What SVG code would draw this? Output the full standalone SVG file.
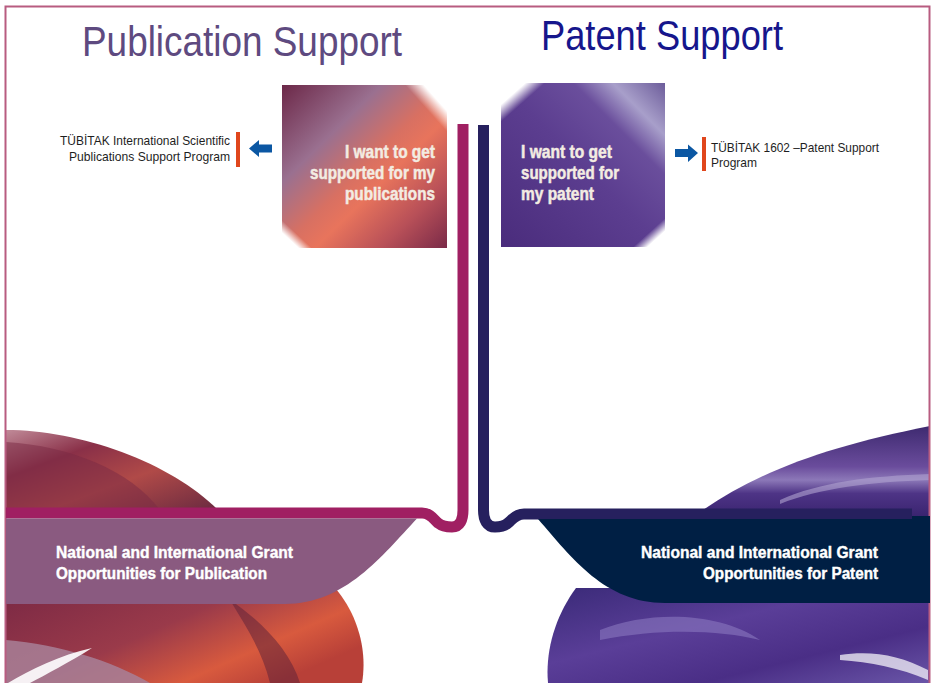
<svg xmlns="http://www.w3.org/2000/svg" width="932" height="683" viewBox="0 0 932 683">
<style>
.title{font-family:"Liberation Sans",Arial,sans-serif;font-size:42px}
.lbl{font-family:"Liberation Sans",Arial,sans-serif;font-size:13.5px;fill:#1e1e1e}
.box{font-family:"Liberation Sans",Arial,sans-serif;font-size:18px;font-weight:bold;fill:#f3ece2;stroke:#f3ece2;stroke-width:0.5}
.ban{font-family:"Liberation Sans",Arial,sans-serif;font-size:16px;font-weight:bold;fill:#ffffff;stroke:#ffffff;stroke-width:0.4}
.bar{fill:#e0461c}
.arrow{fill:#0b57a3}
.conn{fill:none;stroke-width:11}
</style>
<defs>
<linearGradient id="gPub" x1="0" y1="0" x2="1" y2="1">
<stop offset="0" stop-color="#6c2848"/>
<stop offset="0.3" stop-color="#9a7090"/>
<stop offset="0.5" stop-color="#d87062"/>
<stop offset="0.6" stop-color="#e8745c"/>
<stop offset="0.8" stop-color="#b85058"/>
<stop offset="1" stop-color="#7a2a48"/>
</linearGradient>
<linearGradient id="gPat" x1="0" y1="1" x2="1" y2="0">
<stop offset="0" stop-color="#4a2c7c"/>
<stop offset="0.5" stop-color="#5c3e90"/>
<stop offset="0.72" stop-color="#6a4e9c"/>
<stop offset="0.84" stop-color="#a89fca"/>
<stop offset="1" stop-color="#6c5c9a"/>
</linearGradient>
<linearGradient id="wTR" x1="1" y1="0" x2="0.5" y2="0.5">
<stop offset="0.55" stop-color="#fff" stop-opacity="1"/>
<stop offset="1" stop-color="#fff" stop-opacity="0"/>
</linearGradient>
<linearGradient id="wBL" x1="0" y1="1" x2="0.5" y2="0.5">
<stop offset="0.55" stop-color="#fff" stop-opacity="1"/>
<stop offset="1" stop-color="#fff" stop-opacity="0"/>
</linearGradient>
<linearGradient id="wTL" x1="0" y1="0" x2="0.5" y2="0.5">
<stop offset="0.55" stop-color="#fff" stop-opacity="1"/>
<stop offset="1" stop-color="#fff" stop-opacity="0"/>
</linearGradient>
<linearGradient id="wBR" x1="1" y1="1" x2="0.5" y2="0.5">
<stop offset="0.55" stop-color="#fff" stop-opacity="1"/>
<stop offset="1" stop-color="#fff" stop-opacity="0"/>
</linearGradient>
<linearGradient id="dL1" x1="0" y1="0" x2="1" y2="1">
<stop offset="0" stop-color="#c08a98"/>
<stop offset="0.3" stop-color="#8a3048"/>
<stop offset="0.6" stop-color="#b04a48"/>
<stop offset="1" stop-color="#6a2a40"/>
</linearGradient>
<linearGradient id="dL2" x1="0" y1="0" x2="1" y2="0.6">
<stop offset="0" stop-color="#7a2844"/>
<stop offset="0.5" stop-color="#9a3a4a"/>
<stop offset="0.8" stop-color="#d85a3e"/>
<stop offset="1" stop-color="#b84038"/>
</linearGradient>
<linearGradient id="dR1" x1="0" y1="0" x2="0" y2="1">
<stop offset="0" stop-color="#3e2a70"/>
<stop offset="0.45" stop-color="#6a4c9c"/>
<stop offset="0.6" stop-color="#8c78b8"/>
<stop offset="0.75" stop-color="#4e3486"/>
<stop offset="1" stop-color="#3a2470"/>
</linearGradient>
<linearGradient id="dR2" x1="0" y1="0" x2="1" y2="1">
<stop offset="0" stop-color="#3a2a78"/>
<stop offset="0.4" stop-color="#5a3e98"/>
<stop offset="0.7" stop-color="#4a2e86"/>
<stop offset="1" stop-color="#6a56a8"/>
</linearGradient>
</defs>

<rect x="0" y="0" width="932" height="683" fill="#ffffff"/>

<!-- decorative background shapes -->
<path d="M6,430 C80,430 170,462 218,510 L6,510 Z" fill="url(#dL1)"/>
<path d="M6,442 C70,446 130,470 160,510 L6,510 Z" fill="#7a2a44" opacity="0.5"/>
<path d="M6,588 H335 C356,612 368,648 362,683 H6 Z" fill="url(#dL2)"/>
<path d="M6,640 C60,645 110,660 150,683 H6 Z" fill="#a88098" opacity="0.85"/>
<path d="M8,683 C30,670 60,655 92,648 C70,662 45,675 30,683 Z" fill="#ffffff" opacity="0.9"/>
<path d="M230,600 C260,620 290,650 300,683 H270 C262,650 245,625 230,600 Z" fill="#5a2038" opacity="0.5"/>
<path d="M700,512 C760,470 830,446 930,426 V516 H700 Z" fill="url(#dR1)"/>
<path d="M780,500 C820,482 870,476 930,474 V480 C870,482 820,488 780,504 Z" fill="#b0a4d0" opacity="0.6"/>
<path d="M576,588 C556,615 545,650 548,683 H930 V588 Z" fill="url(#dR2)"/>
<path d="M600,630 C650,610 720,612 760,640 C720,630 660,628 600,640 Z" fill="#8a78c0" opacity="0.6"/>
<path d="M840,655 C870,650 900,655 928,670 V680 C900,668 870,662 840,660 Z" fill="#ffffff" opacity="0.7"/>

<!-- frame -->
<rect x="5.5" y="6.5" width="924" height="700" fill="none" stroke="#b85c80" stroke-width="2"/>

<!-- titles -->
<g id="title-publication">
<text class="title" x="82" y="56" fill="#5e4a80" textLength="320" lengthAdjust="spacingAndGlyphs">Publication Support</text>
</g>
<g id="title-patent">
<text class="title" x="541" y="50" fill="#16168c" textLength="242" lengthAdjust="spacingAndGlyphs">Patent Support</text>
</g>

<!-- connectors -->
<g id="connectors">
<path class="conn" stroke="#a01f62" d="M6,513 H422 C431,513 434,520 438,523 C443,527 448,527 452,527 C460,527 463,520 463,510 V124"/>
<path class="conn" stroke="#26205e" d="M483.5,125 V510 C483.5,520 487,527 495,527 C499,527 504,527 508,523 C512,520 515,514 524,514 H912"/>
<polygon class="arrow" points="249,148.5 259,140 259,144.5 272,144.5 272,152.5 259,152.5 259,157"/>
<polygon class="arrow" points="698,153 688,144.5 688,149 675,149 675,157 688,157 688,162"/>
</g>

<!-- publication box -->
<g id="node-pub-box">
<rect x="282" y="85" width="165" height="163" fill="url(#gPub)"/>
<polygon points="405,85 447,85 447,132" fill="url(#wTR)"/>
<polygon points="282,220 282,248 312,248" fill="url(#wBL)"/>
<text class="box" text-anchor="end" x="435" y="158" textLength="90" lengthAdjust="spacingAndGlyphs">I want to get</text>
<text class="box" text-anchor="end" x="435" y="179" textLength="125" lengthAdjust="spacingAndGlyphs">supported for my</text>
<text class="box" text-anchor="end" x="435" y="200" textLength="90" lengthAdjust="spacingAndGlyphs">publications</text>
</g>

<!-- patent box -->
<g id="node-pat-box">
<rect x="501" y="83" width="164" height="164" fill="url(#gPat)"/>
<polygon points="501,83 545,83 501,122" fill="url(#wTL)"/>
<polygon points="665,218 665,247 633,247" fill="url(#wBR)"/>
<text class="box" x="521" y="158" textLength="91" lengthAdjust="spacingAndGlyphs">I want to get</text>
<text class="box" x="521" y="179" textLength="98" lengthAdjust="spacingAndGlyphs">supported for</text>
<text class="box" x="521" y="200" textLength="73" lengthAdjust="spacingAndGlyphs">my patent</text>
</g>

<!-- publication program -->
<g id="node-pub-program">
<rect class="bar" x="236" y="132" width="4" height="35"/>
<text class="lbl" text-anchor="end" x="230" y="145" textLength="170" lengthAdjust="spacingAndGlyphs">TÜBİTAK International Scientific</text>
<text class="lbl" text-anchor="end" x="230" y="161" textLength="161" lengthAdjust="spacingAndGlyphs">Publications Support Program</text>
</g>

<!-- patent program -->
<g id="node-pat-program">
<rect class="bar" x="702" y="137" width="4" height="34"/>
<text class="lbl" x="711" y="152" textLength="168" lengthAdjust="spacingAndGlyphs">TÜBİTAK 1602 –Patent Support</text>
<text class="lbl" x="711" y="167" textLength="46" lengthAdjust="spacingAndGlyphs">Program</text>
</g>

<!-- publication grants banner -->
<g id="node-pub-grants">
<path d="M6,518.5 H417 C382,556 345,604 285,604 H6 Z" fill="#8a5a80"/>
<text class="ban" x="56" y="558" textLength="237" lengthAdjust="spacingAndGlyphs">National and International Grant</text>
<text class="ban" x="56" y="579" textLength="211" lengthAdjust="spacingAndGlyphs">Opportunities for Publication</text>
</g>

<!-- patent grants banner -->
<g id="node-pat-grants">
<path d="M538,519 C572,558 605,603 665,603 H930 V516 H912 V519 Z" fill="#001f44"/>
<text class="ban" text-anchor="end" x="878" y="558" textLength="237" lengthAdjust="spacingAndGlyphs">National and International Grant</text>
<text class="ban" text-anchor="end" x="878" y="579" textLength="175" lengthAdjust="spacingAndGlyphs">Opportunities for Patent</text>
</g>
</svg>
